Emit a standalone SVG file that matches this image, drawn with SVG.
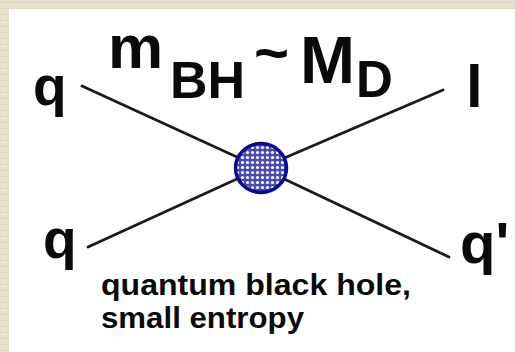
<svg xmlns="http://www.w3.org/2000/svg" width="515" height="352" viewBox="0 0 515 352">
<style>
.t{font-family:"Liberation Sans",Arial,sans-serif;font-weight:bold;fill:#0a0a0a}
.ln{stroke:#1a1a1a;stroke-width:2.8;stroke-linecap:round;fill:none}
</style>
<defs>
<pattern id="dots" width="5" height="5" patternUnits="userSpaceOnUse">
<rect width="5" height="5" fill="#4a4ab0"/>
<circle cx="2.5" cy="2.5" r="1.6" fill="#ffffff"/>
</pattern>
<pattern id="paper" width="8" height="6" patternUnits="userSpaceOnUse">
<rect width="8" height="6" fill="#e7e0cc"/>
<rect y="2" width="8" height="1" fill="#ddd5bf"/>
<rect x="3" y="4" width="4" height="1" fill="#efe9d8"/>
</pattern>
</defs>
<rect width="515" height="352" fill="url(#paper)"/>
<rect x="9" y="9" width="506" height="343" fill="#ffffff"/>
<g id="connectors">
<line class="ln" x1="82" y1="86" x2="261" y2="168"/>
<line class="ln" x1="443" y1="90" x2="261" y2="168"/>
<line class="ln" x1="88" y1="247" x2="261" y2="168"/>
<line class="ln" x1="449" y1="257" x2="261" y2="168"/>
</g>
<g id="blackhole">
<ellipse cx="261" cy="168" rx="25.5" ry="24.5" fill="url(#dots)" stroke="#0a0a96" stroke-width="3.5"/>
</g>
<g id="q-in-top"><text class="t" x="33" y="105" font-size="55">q</text></g>
<g id="q-in-bottom"><text class="t" x="43" y="258" font-size="55">q</text></g>
<g id="l-out"><text class="t" x="466" y="107" font-size="60">l</text></g>
<g id="qprime-out"><text class="t" x="460" y="263" font-size="58">q'</text></g>
<g id="mass-label">
<text class="t" x="108" y="68" font-size="62">m</text>
<text class="t" x="170" y="98" font-size="52">BH</text>
<text class="t" x="254" y="73" font-size="60">~</text>
<text class="t" x="300" y="83" font-size="66">M</text>
<text class="t" x="356" y="97" font-size="51">D</text>
</g>
<g id="caption">
<text class="t" x="101" y="295" font-size="29" textLength="310" lengthAdjust="spacingAndGlyphs">quantum black hole,</text>
<text class="t" x="101" y="328" font-size="29" textLength="203" lengthAdjust="spacingAndGlyphs">small entropy</text>
</g>
</svg>
